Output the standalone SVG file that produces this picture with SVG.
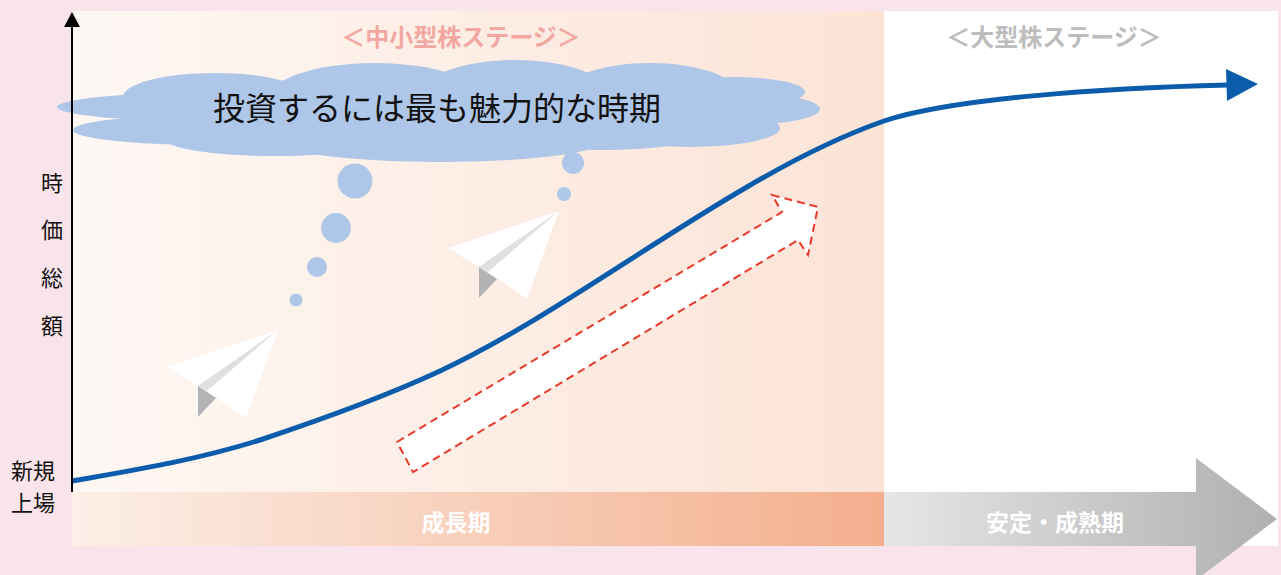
<svg xmlns="http://www.w3.org/2000/svg" width="1281" height="575" viewBox="0 0 1281 575">
  <defs>
    <linearGradient id="gStage1" x1="0" y1="0" x2="1" y2="0">
      <stop offset="0" stop-color="#fef8f4"/>
      <stop offset="1" stop-color="#fce3d6"/>
    </linearGradient>
    <linearGradient id="gGrowth" x1="0" y1="0" x2="1" y2="0">
      <stop offset="0" stop-color="#fcefe7"/>
      <stop offset="1" stop-color="#f3ae8d"/>
    </linearGradient>
    <linearGradient id="gMature" gradientUnits="userSpaceOnUse" x1="884" y1="0" x2="1277" y2="0">
      <stop offset="0" stop-color="#e6e6e6"/>
      <stop offset="1" stop-color="#b0b0b0"/>
    </linearGradient>
    <g id="plane">
      <polygon points="278,330 167,367 198,386" fill="#ffffff"/>
      <polygon points="278,330 198,386 207,391" fill="#e0e0e1"/>
      <polygon points="198,386 198,417 216,398" fill="#b3b3b5"/>
      <polygon points="278,330 207,391 246,418" fill="#ffffff"/>
    </g>
  </defs>
  <style>
    .jp { font-family: "Noto Sans CJK JP", "Noto Sans", sans-serif; }
    .axis-label { font-size: 22px; fill: #111111; text-anchor: middle; dominant-baseline: central; }
    .stage { font-size: 24px; font-weight: 700; text-anchor: middle; dominant-baseline: central; }
    .phase { font-size: 23px; font-weight: 700; fill: #ffffff; text-anchor: middle; dominant-baseline: central; }
    .bubble { fill: #aec6e8; }
  </style>

  <!-- page background -->
  <rect x="0" y="0" width="1281" height="575" fill="#fae4eb"/>

  <!-- stage panels -->
  <g id="stage-small-mid">
    <rect x="72" y="11" width="812" height="481" fill="url(#gStage1)"/>
    <text class="jp stage" x="461" y="35" fill="#f3a7a1">＜中小型株ステージ＞</text>
  </g>
  <g id="stage-large">
    <rect x="884" y="11" width="394" height="535" fill="#ffffff"/>
    <text class="jp stage" x="1054" y="35" fill="#bdbdbd">＜大型株ステージ＞</text>
  </g>

  <!-- time bands -->
  <g id="phase-growth">
    <rect x="72" y="492" width="812" height="54" fill="url(#gGrowth)"/>
    <text class="jp phase" x="456" y="521">成長期</text>
  </g>
  <g id="phase-mature">
    <polygon points="884,492 1196,492 1196,458 1277,519 1196,580 1196,546 884,546" fill="url(#gMature)"/>
    <text class="jp phase" x="1055" y="521">安定・成熟期</text>
  </g>

  <!-- thought cloud -->
  <g id="cloud" fill="#aec6e8">
    <ellipse cx="200" cy="107" rx="143" ry="14"/>
    <ellipse cx="205" cy="130" rx="132" ry="15"/>
    <ellipse cx="215" cy="97" rx="92" ry="24"/>
    <ellipse cx="375" cy="100" rx="108" ry="37"/>
    <ellipse cx="515" cy="96" rx="95" ry="36"/>
    <ellipse cx="650" cy="95" rx="88" ry="32"/>
    <ellipse cx="735" cy="92" rx="70" ry="15"/>
    <ellipse cx="742" cy="109" rx="78" ry="16"/>
    <ellipse cx="690" cy="128" rx="90" ry="19"/>
    <ellipse cx="440" cy="115" rx="300" ry="33"/>
    <ellipse cx="440" cy="140" rx="165" ry="22"/>
    <ellipse cx="275" cy="139" rx="110" ry="17"/>
    <ellipse cx="600" cy="134" rx="105" ry="16"/>
    <text class="jp" x="437" y="106" font-size="32" fill="#111111" text-anchor="middle" dominant-baseline="central">投資するには最も魅力的な時期</text>
  </g>

  <!-- thought bubbles -->
  <g id="bubbles">
    <circle class="bubble" cx="355" cy="181" r="17.5"/>
    <circle class="bubble" cx="336" cy="228" r="15"/>
    <circle class="bubble" cx="317" cy="267" r="10"/>
    <circle class="bubble" cx="296" cy="300" r="6.5"/>
    <circle class="bubble" cx="573" cy="163" r="11"/>
    <circle class="bubble" cx="564" cy="194" r="7"/>
  </g>

  <!-- paper planes -->
  <g id="plane-1"><use href="#plane"/></g>
  <g id="plane-2"><use href="#plane" transform="translate(281,-119)"/></g>

  <!-- growth arrow (dashed outline) -->
  <g id="growth-arrow">
    <polygon points="397,442 782,212 772,195 818,207 808,255 798,240 413,472" fill="#ffffff" stroke="#e8392b" stroke-width="2" stroke-dasharray="8,5"/>
  </g>

  <!-- connectors: value curve and vertical axis -->
  <g id="connectors">
    <path d="M72,481 C135,470 197,460 260,440 C320,420 380,399 440,371 C542,323 645,246 747,187 C793,160 838,137 884,121 C950,99 1100,88 1228,85" fill="none" stroke="#0b5cab" stroke-width="5"/>
    <polygon points="1226,69 1258,84 1227,101" fill="#0b5cab"/>
    <line x1="72" y1="25" x2="72" y2="492" stroke="#000000" stroke-width="2"/>
    <polygon points="72,12 64,27 80,27" fill="#000000"/>
  </g>

  <!-- axis labels -->
  <g id="y-axis-labels">
    <text class="jp axis-label" x="52" y="181">時</text>
    <text class="jp axis-label" x="52" y="228">価</text>
    <text class="jp axis-label" x="52" y="276">総</text>
    <text class="jp axis-label" x="52" y="324">額</text>
    <text class="jp axis-label" x="33" y="469">新規</text>
    <text class="jp axis-label" x="33" y="501">上場</text>
  </g>
</svg>
